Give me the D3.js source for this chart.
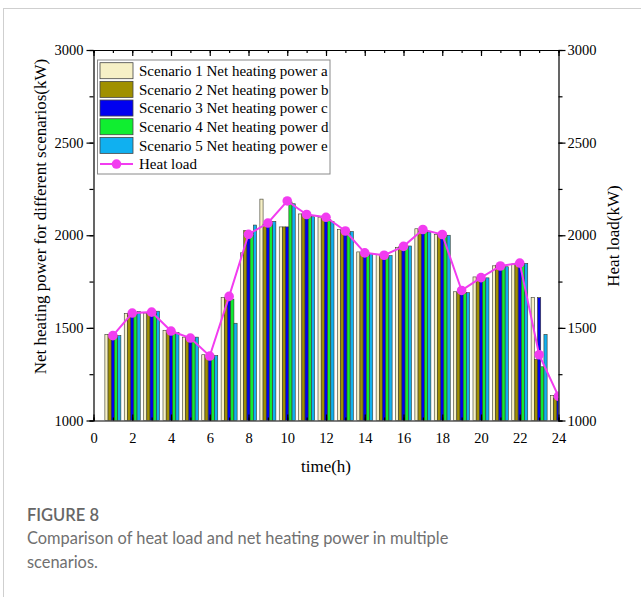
<!DOCTYPE html>
<html>
<head>
<meta charset="utf-8">
<script src="https://cdn.jsdelivr.net/npm/d3@7/dist/d3.min.js"></script>
<style>
  html, body { margin: 0; padding: 0; background: #fff; }
  svg { display: block; }
</style>
</head>
<body>
<svg id="chart" width="641" height="597"></svg>
<script>
// ---------- DATA ----------
const hours = [1,2,3,4,5,6,7,8,9,10,11,12,13,14,15,16,17,18,19,20,21,22,23,24];
const seriesNames = [
  "Scenario 1 Net heating power a",
  "Scenario 2 Net heating power b",
  "Scenario 3 Net heating power c",
  "Scenario 4 Net heating power d",
  "Scenario 5 Net heating power e"
];
const scenario1 = [1465,1578,1580,1487,1450,1355,1663,1905,2195,2045,2115,2098,2030,1910,1895,1935,2035,2005,1695,1775,1835,1845,1663,1135];
const scenario2 = [1465,1578,1580,1485,1450,1350,1663,2025,2060,2045,2115,2092,2027,1905,1890,1938,2032,2005,1690,1772,1838,1845,1330,1118];
const scenario3 = [1460,1580,1585,1478,1440,1345,1668,2020,2062,2045,2110,2090,2020,1898,1888,1940,2025,2000,1688,1765,1830,1850,1663,1120];
const scenario4 = [1460,1580,1585,1478,1445,1345,1655,2020,2065,2180,2105,2085,2015,1900,1885,1940,2020,1998,1688,1768,1830,1848,1290,1120];
const scenario5 = [1458,1588,1590,1475,1450,1350,1525,2055,2075,2170,2100,2075,2020,1900,1890,1942,2018,2000,1690,1770,1830,1848,1465,1120];
const heatLoadName = "Heat load";
const heatLoad = [1458,1580,1585,1483,1445,1348,1670,2005,2066,2185,2112,2097,2023,1905,1892,1940,2031,2004,1702,1771,1834,1850,1355,1131];
const xTicks = [0,2,4,6,8,10,12,14,16,18,20,22,24];
const yTicks = [1000,1500,2000,2500,3000];
const seriesColors = ["#f6f0c6", "#a09000", "#0000f0", "#10ee30", "#10b0f0"];
const lineColor = "#f23cf0";

// ---------- LAYOUT ----------
const svg = d3.select("#chart");
const L = 93.5, R = 558.5, T = 50, B = 420.5;
const serif = "'Liberation Serif', 'Times New Roman', serif";

const x = d3.scaleLinear().domain([0, 24]).range([L, R]);
const y = d3.scaleLinear().domain([1000, 3000]).range([B, T]);
const yR = d3.scaleLinear().domain([1000, 3000]).range([B, T]);
const inner = d3.scaleBand().domain(d3.range(5)).range([-8, 8]).padding(0);

// figure frame (page decoration)
svg.append("line").attr("x1", 3.5).attr("x2", 3.5).attr("y1", 8).attr("y2", 597)
  .attr("stroke", "#cfcfcf").attr("stroke-width", 1);
svg.append("line").attr("x1", 3.5).attr("x2", 641).attr("y1", 8.5).attr("y2", 8.5)
  .attr("stroke", "#cfcfcf").attr("stroke-width", 1);

svg.append("defs").append("clipPath").attr("id", "plotclip")
  .append("rect").attr("x", L).attr("y", T).attr("width", R - L).attr("height", B - T);

const plot = svg.append("g").attr("clip-path", "url(#plotclip)");

const allSeries = [scenario1, scenario2, scenario3, scenario4, scenario5];
allSeries.forEach((vals, si) => {
  plot.append("g").selectAll("rect").data(hours.map((h, i) => ({h, v: vals[i]})))
    .join("rect")
    .attr("x", d => x(d.h) + inner(si))
    .attr("y", d => y(d.v))
    .attr("width", inner.bandwidth())
    .attr("height", d => y(1000) - y(d.v))
    .attr("fill", seriesColors[si])
    .attr("stroke", "#3a3a2a")
    .attr("stroke-width", 0.6);
});

// heat load line
const lineGen = d3.line().x((d, i) => x(hours[i])).y(d => yR(d));
plot.append("path").datum(heatLoad).attr("d", lineGen)
  .attr("fill", "none").attr("stroke", lineColor).attr("stroke-width", 2);
plot.append("g").selectAll("circle").data(heatLoad).join("circle")
  .attr("cx", (d, i) => x(hours[i])).attr("cy", d => yR(d)).attr("r", 4.8)
  .attr("fill", lineColor);

// ---------- AXES ----------
function styleAxis(g) {
  g.selectAll("path.domain").attr("stroke", "#000").attr("stroke-width", 1.2);
  g.selectAll("line").attr("stroke", "#000").attr("stroke-width", 1.2);
  g.selectAll("text").attr("font-family", serif).attr("font-size", 14.5).attr("fill", "#000");
}
const xMinor = d3.range(0, 25, 1);
svg.append("g").attr("transform", `translate(0,${B})`)
  .call(d3.axisBottom(x).tickValues(xMinor).tickSize(-3).tickFormat(""))
  .call(styleAxis);
svg.append("g").attr("transform", `translate(0,${B})`)
  .call(d3.axisBottom(x).tickValues(xTicks).tickSize(-6).tickPadding(12).tickFormat(d3.format("d")))
  .call(styleAxis)
  .call(g => g.select(".domain").remove());
svg.append("g").attr("transform", `translate(0,${T})`)
  .call(d3.axisTop(x).tickValues(xMinor).tickSize(-3).tickFormat(""))
  .call(styleAxis);
svg.append("g").attr("transform", `translate(0,${T})`)
  .call(d3.axisTop(x).tickValues(xTicks).tickSize(-6).tickFormat(""))
  .call(styleAxis)
  .call(g => g.select(".domain").remove());
const yMinor = d3.range(1000, 3001, 250);
svg.append("g").attr("transform", `translate(${L},0)`)
  .call(d3.axisLeft(y).tickValues(yMinor).tickSize(4).tickFormat(""))
  .call(styleAxis);
svg.append("g").attr("transform", `translate(${L},0)`)
  .call(d3.axisLeft(y).tickValues(yTicks).tickSize(7).tickPadding(3).tickFormat(d3.format("d")))
  .call(styleAxis)
  .call(g => g.select(".domain").remove());
svg.append("g").attr("transform", `translate(${R},0)`)
  .call(d3.axisRight(yR).tickValues(yMinor).tickSize(4).tickFormat(""))
  .call(styleAxis);
svg.append("g").attr("transform", `translate(${R},0)`)
  .call(d3.axisRight(yR).tickValues(yTicks).tickSize(7).tickPadding(2).tickFormat(d3.format("d")))
  .call(styleAxis)
  .call(g => g.select(".domain").remove());

// axis titles
svg.append("text").attr("x", 326).attr("y", 472).attr("text-anchor", "middle")
  .attr("font-family", serif).attr("font-size", 17).text("time(h)");
svg.append("text").attr("transform", "translate(46,216.5) rotate(-90)").attr("text-anchor", "middle")
  .attr("font-family", serif).attr("font-size", 17).text("Net heating power for different scenarios(kW)");
svg.append("text").attr("transform", "translate(619,236) rotate(-90)").attr("text-anchor", "middle")
  .attr("font-family", serif).attr("font-size", 17).text("Heat load(kW)");

// ---------- LEGEND ----------
const lg = svg.append("g");
lg.append("rect").attr("x", 97.5).attr("y", 60).attr("width", 232.5).attr("height", 114)
  .attr("fill", "#fff").attr("stroke", "#8a8a8a").attr("stroke-width", 1);
const rowY = i => 70.7 + i * 18.67;
seriesNames.forEach((name, i) => {
  lg.append("rect").attr("x", 100).attr("y", rowY(i) - 8).attr("width", 33).attr("height", 16)
    .attr("fill", seriesColors[i]).attr("stroke", "#444").attr("stroke-width", 0.8);
  lg.append("text").attr("x", 139).attr("y", rowY(i)).attr("dy", "0.35em")
    .attr("font-family", serif).attr("font-size", 15).text(name);
});
const hy = rowY(5);
lg.append("line").attr("x1", 100).attr("x2", 133).attr("y1", hy).attr("y2", hy)
  .attr("stroke", lineColor).attr("stroke-width", 2);
lg.append("circle").attr("cx", 116.5).attr("cy", hy).attr("r", 4.8).attr("fill", lineColor);
lg.append("text").attr("x", 139).attr("y", hy).attr("dy", "0.35em")
  .attr("font-family", serif).attr("font-size", 15).text(heatLoadName);

// ---------- CAPTION ----------
const capFont = "Lato, 'Open Sans', 'Noto Sans', sans-serif";
svg.append("text").attr("x", 27).attr("y", 521).attr("font-family", capFont)
  .attr("font-size", 16.5).attr("font-weight", 600).attr("fill", "#666").text("FIGURE 8");
svg.append("text").attr("x", 27).attr("y", 544).attr("font-family", capFont)
  .attr("font-size", 16.4).attr("font-weight", 400).attr("fill", "#707070")
  .text("Comparison of heat load and net heating power in multiple");
svg.append("text").attr("x", 27).attr("y", 568).attr("font-family", capFont)
  .attr("font-size", 16.4).attr("font-weight", 400).attr("fill", "#707070")
  .text("scenarios.");
</script>
</body>
</html>
